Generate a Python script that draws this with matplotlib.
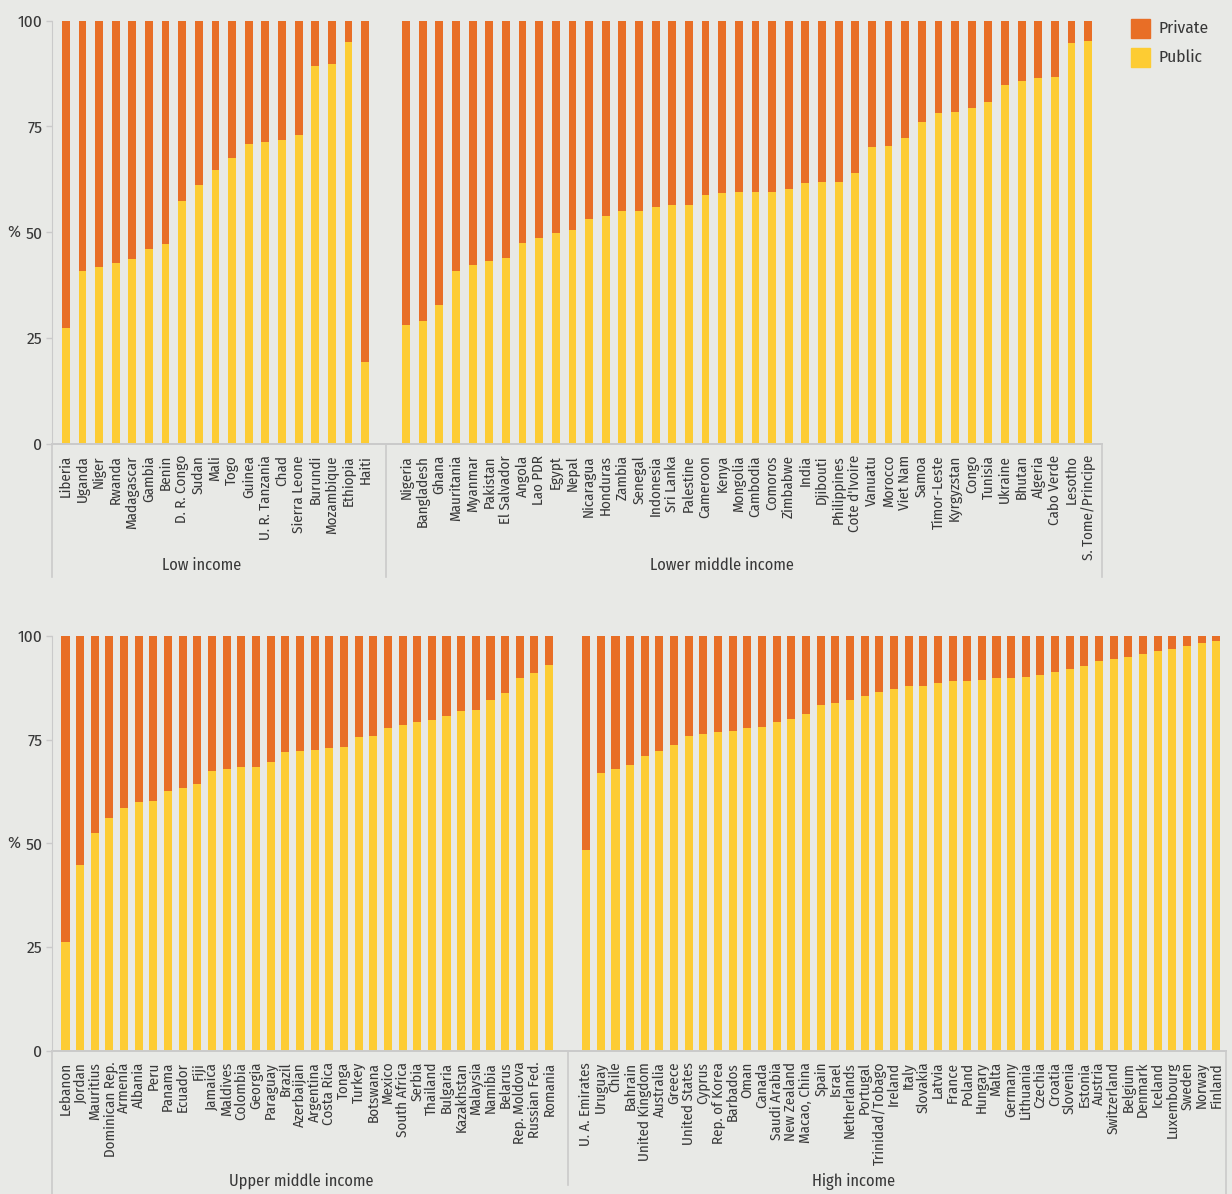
import matplotlib
matplotlib.use("Agg")
import matplotlib.pyplot as plt
from matplotlib import font_manager as fm
from matplotlib.patches import Rectangle
from matplotlib.lines import Line2D

# ---- data: public share of total expenditure (%), private = 100 - public ----
low_income = ["Liberia", "Uganda", "Niger", "Rwanda", "Madagascar", "Gambia", "Benin",
              "D. R. Congo", "Sudan", "Mali", "Togo", "Guinea", "U. R. Tanzania", "Chad",
              "Sierra Leone", "Burundi", "Mozambique", "Ethiopia", "Haiti"]
low_public = [27.5, 40.9, 41.9, 42.8, 43.8, 46.1, 47.3, 57.4, 61.2, 64.8, 67.6, 70.9,
              71.4, 71.8, 73.0, 89.3, 89.8, 94.9, 19.4]

lower_middle = ["Nigeria", "Bangladesh", "Ghana", "Mauritania", "Myanmar", "Pakistan",
                "El Salvador", "Angola", "Lao PDR", "Egypt", "Nepal", "Nicaragua",
                "Honduras", "Zambia", "Senegal", "Indonesia", "Sri Lanka", "Palestine",
                "Cameroon", "Kenya", "Mongolia", "Cambodia", "Comoros", "Zimbabwe", "India",
                "Djibouti", "Philippines", "Cote d'Ivoire", "Vanuatu", "Morocco", "Viet Nam",
                "Samoa", "Timor-Leste", "Kyrgyzstan", "Congo", "Tunisia", "Ukraine",
                "Bhutan", "Algeria", "Cabo Verde", "Lesotho", "S. Tome/Principe"]
lower_middle_public = [28.0, 29.1, 32.9, 40.9, 42.3, 43.3, 44.0, 47.5, 48.7, 49.9, 50.6,
                       53.2, 53.9, 54.9, 55.1, 56.0, 56.5, 56.5, 58.8, 59.3, 59.6, 59.6,
                       59.6, 60.3, 61.7, 61.9, 61.9, 64.0, 70.2, 70.4, 72.3, 76.1, 78.2,
                       78.4, 79.4, 80.8, 84.8, 85.8, 86.5, 86.7, 94.7, 95.2]

upper_middle = ["Lebanon", "Jordan", "Mauritius", "Dominican Rep.", "Armenia", "Albania",
                "Peru", "Panama", "Ecuador", "Fiji", "Jamaica", "Maldives", "Colombia",
                "Georgia", "Paraguay", "Brazil", "Azerbaijan", "Argentina", "Costa Rica",
                "Tonga", "Turkey", "Botswana", "Mexico", "South Africa", "Serbia",
                "Thailand", "Bulgaria", "Kazakhstan", "Malaysia", "Namibia", "Belarus",
                "Rep. Moldova", "Russian Fed.", "Romania"]
upper_middle_public = [26.2, 44.8, 52.5, 56.1, 58.5, 60.0, 60.2, 62.6, 63.3, 64.3, 67.4,
                       67.9, 68.4, 68.4, 69.6, 72.0, 72.3, 72.5, 73.0, 73.2, 75.6, 75.9,
                       77.8, 78.5, 79.3, 79.7, 80.7, 81.9, 82.2, 84.6, 86.3, 89.9, 91.1,
                       93.0]

high_income = ["U. A. Emirates", "Uruguay", "Chile", "Bahrain", "United Kingdom",
               "Australia", "Greece", "United States", "Cyprus", "Rep. of Korea",
               "Barbados", "Oman", "Canada", "Saudi Arabia", "New Zealand", "Macao, China",
               "Spain", "Israel", "Netherlands", "Portugal", "Trinidad/Tobago", "Ireland",
               "Italy", "Slovakia", "Latvia", "France", "Poland", "Hungary", "Malta",
               "Germany", "Lithuania", "Czechia", "Croatia", "Slovenia", "Estonia",
               "Austria", "Switzerland", "Belgium", "Denmark", "Iceland", "Luxembourg",
               "Sweden", "Norway", "Finland"]
high_public = [48.4, 67.0, 67.9, 68.9, 71.1, 72.3, 73.7, 75.9, 76.4, 76.8, 77.1, 77.8,
               78.1, 79.3, 80.0, 81.2, 83.4, 83.8, 84.6, 85.5, 86.5, 87.2, 87.9, 87.9,
               88.7, 89.1, 89.1, 89.4, 89.9, 89.9, 90.1, 90.6, 91.3, 92.0, 92.8, 94.0,
               94.5, 94.9, 95.7, 96.4, 96.9, 97.6, 98.3, 98.8]

group_titles = ["Low income", "Lower middle income", "Upper middle income", "High income"]
y_ticks = [0, 25, 50, 75, 100]
series_names = ["Private", "Public"]

# ---- style ----
C_PRIVATE = "#E86E26"
C_PUBLIC = "#FDCC33"
BG = "#E8E9E6"
TXT = "#383838"
RULE = "#CACACA"


def pick_family():
    names = {f.name for f in fm.fontManager.ttflist}
    for fam in ["Fira Sans Condensed", "Roboto Condensed", "Archivo Narrow",
                "Asap Condensed", "DejaVu Sans"]:
        if fam in names:
            return fam
    return "DejaVu Sans"


plt.rcParams["font.family"] = [pick_family(), "DejaVu Sans"]

W, H = 1232, 1194
fig = plt.figure(figsize=(W / 100, H / 100), dpi=100, facecolor=BG)


def fx(px):
    return px / W


def fy(py):
    return 1 - py / H


def panel(left_px, right_px, top_px, bottom_px, groups, titles, title_px, gap,
          margin_l, margin_r, bar_w, frame_bottom_px, split_bottom_px):
    ax = fig.add_axes([fx(left_px), fy(bottom_px), fx(right_px - left_px),
                       (bottom_px - top_px) / H])
    ax.set_facecolor(BG)
    positions, labels, public = [], [], []
    starts, ends = [], []
    x = 0.0
    for names, vals in groups:
        starts.append(x)
        for n, v in zip(names, vals):
            positions.append(x)
            labels.append(n)
            public.append(v)
            x += 1
        ends.append(x - 1)
        x += gap
    private = [100 - v for v in public]
    ax.bar(positions, public, width=bar_w, color=C_PUBLIC, linewidth=0)
    ax.bar(positions, private, width=bar_w, bottom=public, color=C_PRIVATE, linewidth=0)
    ax.set_xlim(-margin_l, positions[-1] + margin_r)
    ax.set_ylim(0, 100)
    ax.set_yticks(y_ticks)
    ax.set_yticklabels([str(t) for t in y_ticks])
    ax.set_xticks(positions)
    ax.set_xticklabels(labels, rotation=90)
    ax.tick_params(axis="x", length=0, pad=8, labelsize=10.8, labelcolor=TXT)
    ax.tick_params(axis="y", length=4, width=1, color=RULE, pad=3, labelsize=12.5,
                   labelcolor=TXT)
    for s in ["top", "right"]:
        ax.spines[s].set_visible(False)
    ax.spines["left"].set_color(RULE)
    ax.spines["bottom"].set_color(RULE)
    ax.spines["bottom"].set_linewidth(1.4)
    # "%" unit beside the 50 tick
    ax.text((20 - left_px) / (right_px - left_px), 50, "%", ha="right", va="center",
            fontsize=12.5, color=TXT, transform=ax.get_yaxis_transform())
    # vertical rules framing the category-label band
    span = bottom_px - top_px
    rules = [(-margin_l, frame_bottom_px), (positions[-1] + margin_r, frame_bottom_px)]
    for a, b in zip(ends[:-1], starts[1:]):
        rules.append(((a + b) / 2, split_bottom_px))
    for xv, yb in rules:
        y_low = -(yb - bottom_px) / span
        ax.add_line(Line2D([xv, xv], [0, y_low], transform=ax.get_xaxis_transform(),
                           color=RULE, lw=1.2, clip_on=False))
    for (tx, ty), t in zip(title_px, titles):
        fig.text(fx(tx), fy(ty), t, ha="center", va="center", fontsize=11.8, color=TXT)
    return ax


panel(52.3, 1102, 20.5, 444,
      [(low_income, low_public), (lower_middle, lower_middle_public)],
      group_titles[:2], [(202, 565), (722, 565)],
      gap=1.46, margin_l=0.81, margin_r=0.83, bar_w=0.47,
      frame_bottom_px=577, split_bottom_px=577)

panel(52.3, 1225.7, 636, 1050.7,
      [(upper_middle, upper_middle_public), (high_income, high_public)],
      group_titles[2:], [(301, 1181), (854, 1181)],
      gap=1.53, margin_l=0.9, margin_r=0.64, bar_w=0.55,
      frame_bottom_px=1194, split_bottom_px=1185)

# legend
for (name, col), y0 in zip([(series_names[0], C_PRIVATE), (series_names[1], C_PUBLIC)], [19, 48]):
    fig.patches.append(Rectangle((fx(1131), fy(y0 + 19)), 19 / W, 19 / H, color=col,
                                 transform=fig.transFigure, figure=fig))
    fig.text(fx(1159), fy(y0 + 9.5), name, ha="left", va="center", fontsize=12.5, color=TXT)

fig.savefig("out.png", dpi=100, facecolor=BG)
